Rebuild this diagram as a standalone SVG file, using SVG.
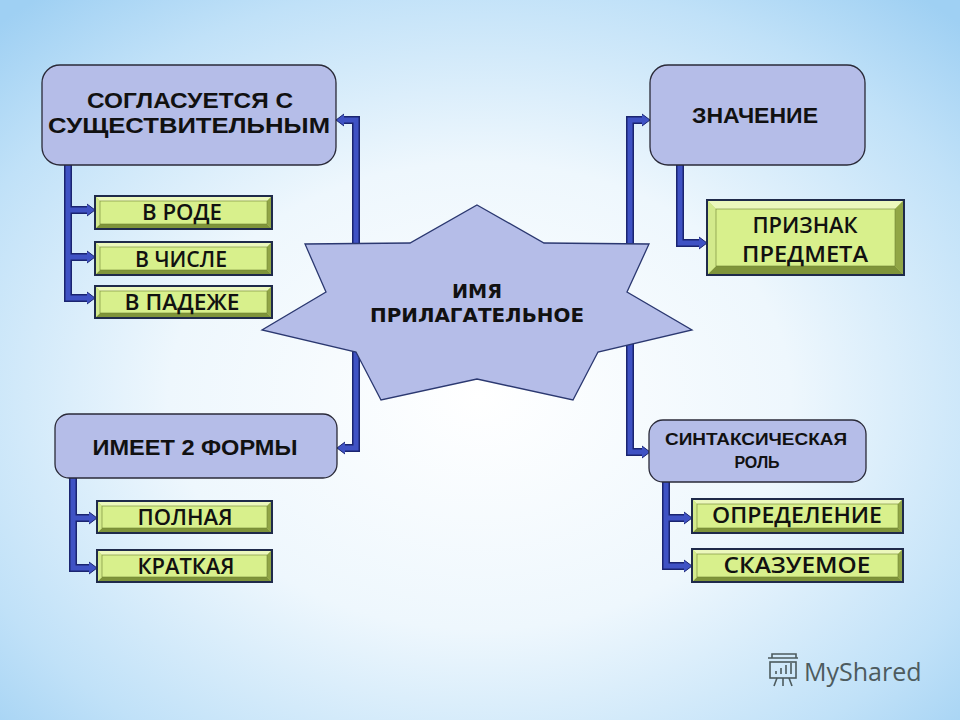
<svg xmlns="http://www.w3.org/2000/svg" width="960" height="720" viewBox="0 0 960 720">
<defs>
<radialGradient id="bg" cx="50%" cy="55%" r="72%">
<stop offset="0" stop-color="#ffffff"/>
<stop offset="0.45" stop-color="#eef7fd"/>
<stop offset="0.8" stop-color="#c0e1f8"/>
<stop offset="1" stop-color="#9fd0f3"/>
</radialGradient>
<marker id="ah" markerUnits="userSpaceOnUse" viewBox="-1 -7 10 14" markerWidth="10" markerHeight="14" refX="0" refY="0" orient="auto">
<path d="M0,-6 L8,0 L0,6" fill="#3f52c4" stroke="#1a2470" stroke-width="1"/>
</marker>
</defs>
<style>
.lav{fill:#b5bde8;stroke:#2a2a38;stroke-width:1.3}
.t{font-family:"Liberation Sans",Arial,sans-serif;font-weight:bold;fill:#111;text-anchor:middle}
.g{font-family:"Open Sans","Noto Sans",sans-serif;font-weight:600;fill:#111;text-anchor:middle;font-size:22px}
.s{font-family:"DejaVu Sans",sans-serif;font-weight:bold;fill:#111;text-anchor:middle;font-size:19px}
.out{fill:#b9d26a;stroke:#1f2a4a;stroke-width:2}
.bt{fill:#ecf8bc}
.bl{fill:#d3ea8c}
.br{fill:#91a646}
.bb{fill:#7f943a}
.face{fill:#d8f08c;stroke:#6f8232;stroke-width:0.6}
.co{fill:none;stroke:#1a2470;stroke-width:8;stroke-linejoin:miter}
.ci{fill:none;stroke:#3f52c4;stroke-width:5;stroke-linejoin:miter}
</style>
<rect x="0" y="0" width="960" height="720" fill="url(#bg)"/>

<g id="connectors">
<path class="co" d="M356,260 V120 H344"/>
<path class="co" d="M356,340 V448 H345"/>
<path class="co" d="M630,260 V120 H642"/>
<path class="co" d="M630,340 V452 H642"/>
<path class="co" d="M68,165 V298 H87"/>
<path class="co" d="M68,210 H87"/>
<path class="co" d="M68,257 H87"/>
<path class="co" d="M680,165 V243 H699"/>
<path class="co" d="M73,478 V568 H89"/>
<path class="co" d="M73,518 H89"/>
<path class="co" d="M666,482 V566 H684"/>
<path class="co" d="M666,518 H684"/>
<path class="ci" d="M356,260 V120 H344" marker-end="url(#ah)"/>
<path class="ci" d="M356,340 V448 H345" marker-end="url(#ah)"/>
<path class="ci" d="M630,260 V120 H642" marker-end="url(#ah)"/>
<path class="ci" d="M630,340 V452 H642" marker-end="url(#ah)"/>
<path class="ci" d="M68,165 V298 H87" marker-end="url(#ah)"/>
<path class="ci" d="M68,210 H87" marker-end="url(#ah)"/>
<path class="ci" d="M68,257 H87" marker-end="url(#ah)"/>
<path class="ci" d="M680,165 V243 H699" marker-end="url(#ah)"/>
<path class="ci" d="M73,478 V568 H89" marker-end="url(#ah)"/>
<path class="ci" d="M73,518 H89" marker-end="url(#ah)"/>
<path class="ci" d="M666,482 V566 H684" marker-end="url(#ah)"/>
<path class="ci" d="M666,518 H684" marker-end="url(#ah)"/>
</g>

<g id="center">
<polygon fill="#b5bde8" stroke="#2b3870" stroke-width="1.3" points="477,205 544,243 649,244 627,292 692,330 598,352 573,400 477,379 381,400 356,352 262,330 326,292 305,244 410,243"/>
<text class="s" x="477" y="298" textLength="50" lengthAdjust="spacingAndGlyphs">ИМЯ</text>
<text class="s" x="477" y="322" textLength="214" lengthAdjust="spacingAndGlyphs">ПРИЛАГАТЕЛЬНОЕ</text>
</g>

<g id="soglasuetsya">
<rect class="lav" x="42" y="65" width="294" height="100" rx="18"/>
<text class="t" x="190" y="108" font-size="22" textLength="206" lengthAdjust="spacingAndGlyphs">СОГЛАСУЕТСЯ С</text>
<text class="t" x="189" y="133" font-size="22" textLength="282" lengthAdjust="spacingAndGlyphs">СУЩЕСТВИТЕЛЬНЫМ</text>
</g>

<g id="znachenie">
<rect class="lav" x="650" y="65" width="215" height="100" rx="18"/>
<text class="t" x="755" y="123" font-size="22" textLength="126" lengthAdjust="spacingAndGlyphs">ЗНАЧЕНИЕ</text>
</g>

<g id="imeet">
<rect class="lav" x="55" y="414" width="282" height="64" rx="14"/>
<text class="t" x="195" y="455" font-size="22" textLength="205" lengthAdjust="spacingAndGlyphs">ИМЕЕТ 2 ФОРМЫ</text>
</g>

<g id="sintaks">
<rect class="lav" x="649" y="420" width="217" height="62" rx="14"/>
<text class="t" x="756" y="445" font-size="16" textLength="182" lengthAdjust="spacingAndGlyphs">СИНТАКСИЧЕСКАЯ</text>
<text class="t" x="757" y="468" font-size="16">РОЛЬ</text>
</g>

<g id="v-rode">
<rect class="out" x="95" y="196" width="177" height="33"/>
<polygon class="bt" points="95,196 272,196 267,201 100,201"/>
<polygon class="bb" points="95,229 272,229 267,224 100,224"/>
<polygon class="bl" points="95,196 100,201 100,224 95,229"/>
<polygon class="br" points="272,196 267,201 267,224 272,229"/>
<rect class="face" x="100" y="201" width="167" height="23"/>
<rect x="95" y="196" width="177" height="33" fill="none" stroke="#1f2a4a" stroke-width="2"/>
<text class="g" x="182" y="220" textLength="80" lengthAdjust="spacingAndGlyphs">В РОДЕ</text>
</g>

<g id="v-chisle">
<rect class="out" x="95" y="242" width="177" height="33"/>
<polygon class="bt" points="95,242 272,242 267,247 100,247"/>
<polygon class="bb" points="95,275 272,275 267,270 100,270"/>
<polygon class="bl" points="95,242 100,247 100,270 95,275"/>
<polygon class="br" points="272,242 267,247 267,270 272,275"/>
<rect class="face" x="100" y="247" width="167" height="23"/>
<rect x="95" y="242" width="177" height="33" fill="none" stroke="#1f2a4a" stroke-width="2"/>
<text class="g" x="181" y="267" textLength="92" lengthAdjust="spacingAndGlyphs">В ЧИСЛЕ</text>
</g>

<g id="v-padezhe">
<rect class="out" x="95" y="286" width="177" height="32"/>
<polygon class="bt" points="95,286 272,286 267,291 100,291"/>
<polygon class="bb" points="95,318 272,318 267,313 100,313"/>
<polygon class="bl" points="95,286 100,291 100,313 95,318"/>
<polygon class="br" points="272,286 267,291 267,313 272,318"/>
<rect class="face" x="100" y="291" width="167" height="22"/>
<rect x="95" y="286" width="177" height="32" fill="none" stroke="#1f2a4a" stroke-width="2"/>
<text class="g" x="182" y="310" textLength="115" lengthAdjust="spacingAndGlyphs">В ПАДЕЖЕ</text>
</g>

<g id="priznak">
<rect class="out" x="707" y="200" width="197" height="75"/>
<polygon class="bt" points="707,200 904,200 895,209 716,209"/>
<polygon class="bb" points="707,275 904,275 895,266 716,266"/>
<polygon class="bl" points="707,200 716,209 716,266 707,275"/>
<polygon class="br" points="904,200 895,209 895,266 904,275"/>
<rect class="face" x="716" y="209" width="179" height="57"/>
<rect x="707" y="200" width="197" height="75" fill="none" stroke="#1f2a4a" stroke-width="2"/>
<text class="g" x="805" y="233" textLength="105" lengthAdjust="spacingAndGlyphs">ПРИЗНАК</text>
<text class="g" x="805" y="262" textLength="126" lengthAdjust="spacingAndGlyphs">ПРЕДМЕТА</text>
</g>

<g id="polnaya">
<rect class="out" x="97" y="501" width="175" height="32"/>
<polygon class="bt" points="97,501 272,501 267,506 102,506"/>
<polygon class="bb" points="97,533 272,533 267,528 102,528"/>
<polygon class="bl" points="97,501 102,506 102,528 97,533"/>
<polygon class="br" points="272,501 267,506 267,528 272,533"/>
<rect class="face" x="102" y="506" width="165" height="22"/>
<rect x="97" y="501" width="175" height="32" fill="none" stroke="#1f2a4a" stroke-width="2"/>
<text class="g" x="185" y="525" textLength="95" lengthAdjust="spacingAndGlyphs">ПОЛНАЯ</text>
</g>

<g id="kratkaya">
<rect class="out" x="97" y="550" width="175" height="32"/>
<polygon class="bt" points="97,550 272,550 267,555 102,555"/>
<polygon class="bb" points="97,582 272,582 267,577 102,577"/>
<polygon class="bl" points="97,550 102,555 102,577 97,582"/>
<polygon class="br" points="272,550 267,555 267,577 272,582"/>
<rect class="face" x="102" y="555" width="165" height="22"/>
<rect x="97" y="550" width="175" height="32" fill="none" stroke="#1f2a4a" stroke-width="2"/>
<text class="g" x="186" y="574" textLength="97" lengthAdjust="spacingAndGlyphs">КРАТКАЯ</text>
</g>

<g id="opredelenie">
<rect class="out" x="692" y="499" width="211" height="34"/>
<polygon class="bt" points="692,499 903,499 898,504 697,504"/>
<polygon class="bb" points="692,533 903,533 898,528 697,528"/>
<polygon class="bl" points="692,499 697,504 697,528 692,533"/>
<polygon class="br" points="903,499 898,504 898,528 903,533"/>
<rect class="face" x="697" y="504" width="201" height="24"/>
<rect x="692" y="499" width="211" height="34" fill="none" stroke="#1f2a4a" stroke-width="2"/>
<text class="g" x="797" y="523" textLength="170" lengthAdjust="spacingAndGlyphs">ОПРЕДЕЛЕНИЕ</text>
</g>

<g id="skazuemoe">
<rect class="out" x="692" y="549" width="211" height="33"/>
<polygon class="bt" points="692,549 903,549 898,554 697,554"/>
<polygon class="bb" points="692,582 903,582 898,577 697,577"/>
<polygon class="bl" points="692,549 697,554 697,577 692,582"/>
<polygon class="br" points="903,549 898,554 898,577 903,582"/>
<rect class="face" x="697" y="554" width="201" height="23"/>
<rect x="692" y="549" width="211" height="33" fill="none" stroke="#1f2a4a" stroke-width="2"/>
<text class="g" x="797" y="573" textLength="147" lengthAdjust="spacingAndGlyphs">СКАЗУЕМОЕ</text>
</g>

<g id="watermark" fill="none" stroke="#4d5b5e" stroke-width="1.6">
<rect x="770" y="662" width="26" height="16"/>
<path d="M768,658 H798 M772,658 V654 H796 V658 M776,674 V671 M781,674 V668 M786,674 V665 M791,674 V663 M777,678 L774,686 M789,678 L792,686 M783,678 V686"/>
<text x="804" y="681" font-family="'Open Sans',sans-serif" font-size="25" fill="#4d5b5e" stroke="none">MyShared</text>
</g>
</svg>
